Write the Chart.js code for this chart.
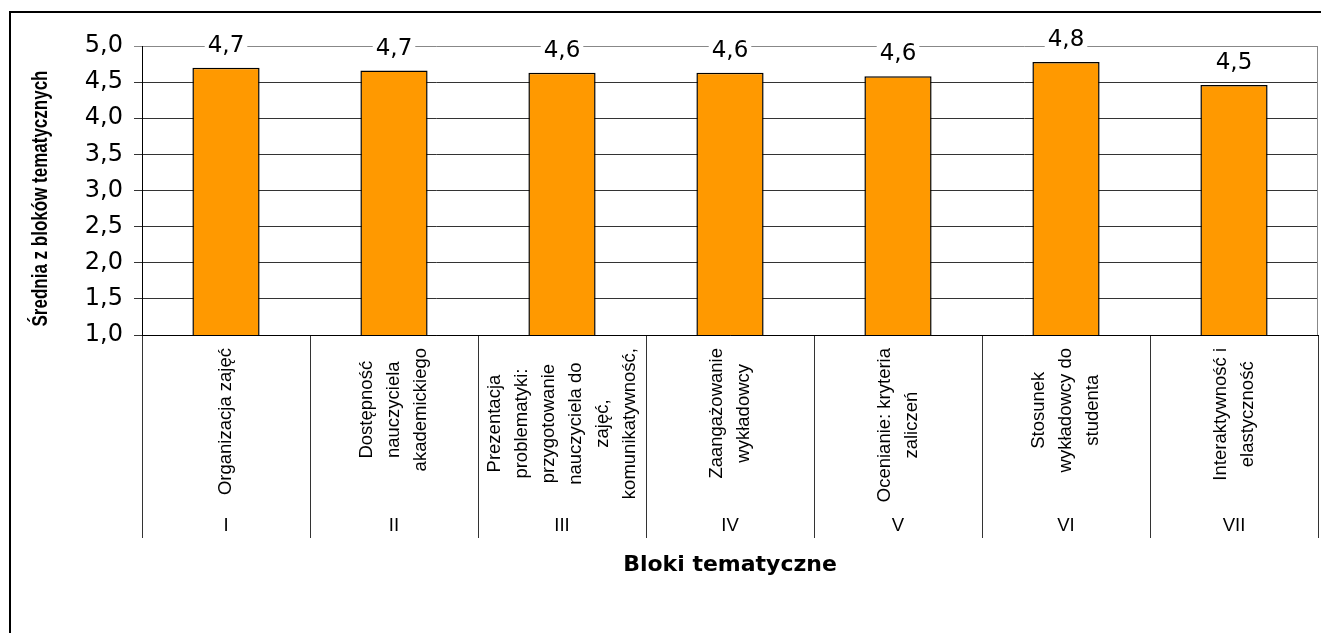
<!DOCTYPE html>
<html>
<head>
<meta charset="utf-8">
<script src="https://cdn.jsdelivr.net/npm/chart.js@4.4.1/dist/chart.umd.min.js"></script>
<style>
    html, body { margin: 0; padding: 0; background: #fff; }
    canvas { display: block; }
</style>
</head>
<body>
<canvas id="blocks-chart" width="1321" height="633"></canvas>
<script>
'use strict';

// data
const blockNumbers = ['I', 'II', 'III', 'IV', 'V', 'VI', 'VII'];
const blockNames = [
    ['Organizacja zajęć'],
    ['Dostępność', 'nauczyciela', 'akademickiego'],
    ['Prezentacja', 'problematyki:', 'przygotowanie', 'nauczyciela do', 'zajęć,', 'komunikatywność,'],
    ['Zaangażowanie', 'wykładowcy'],
    ['Ocenianie: kryteria', 'zaliczeń'],
    ['Stosunek', 'wykładowcy do', 'studenta'],
    ['Interaktywność i', 'elastyczność'],
];
const averages = [4.70, 4.66, 4.63, 4.63, 4.58, 4.78, 4.46];
const yMin = 1;
const yMax = 5;
const yStep = 0.5;
const yTitle = 'Średnia z bloków tematycznych';
const xTitle = 'Bloki tematyczne';

const ARIAL = '"Liberation Sans", Arial, sans-serif';
const WIDE = '"DejaVu Sans", sans-serif';

window.toComma = function (value) {
    return value.toFixed(1).replace('.', ',');
};

const blockLabelsPlugin = {
    id: 'blockLabels',
    beforeDraw(chart) {
        const ctx = chart.ctx;
        ctx.save();
        ctx.fillStyle = '#000';
        ctx.fillRect(9, 11, 2, chart.height - 11);
        ctx.fillRect(9, 11, chart.width - 9, 2);
        ctx.restore();
    },
    afterDatasetsDraw(chart) {
        const ctx = chart.ctx;
        const area = chart.chartArea;
        const meta = chart.getDatasetMeta(0);
        ctx.save();
        // plot area border on the right
        ctx.strokeStyle = '#888';
        ctx.lineWidth = 1;
        ctx.beginPath();
        ctx.moveTo(area.right - 0.5, area.top);
        ctx.lineTo(area.right - 0.5, area.bottom);
        ctx.stroke();

        ctx.font = '23px ' + WIDE;
        ctx.textAlign = 'center';
        ctx.textBaseline = 'middle';
        meta.data.forEach(function (bar, i) {
            let text = toComma(averages[i]);
            let w = ctx.measureText(text).width;
            let y = bar.y - 22;
            ctx.fillStyle = '#fff';
            ctx.fillRect(bar.x - w / 2 - 3, y - 12, w + 6, 24);
            ctx.fillStyle = '#000';
            ctx.fillText(text, bar.x, y);
        });
        ctx.restore();
    },
    afterDraw(chart) {
        const ctx = chart.ctx;
        const area = chart.chartArea;
        const xScale = chart.scales.x;
        const top = area.bottom + 13;
        ctx.save();
        ctx.fillStyle = '#000';
        ctx.font = '18.5px ' + ARIAL;
        ctx.textAlign = 'center';
        ctx.textBaseline = 'middle';
        blockNames.forEach(function (lines, i) {
            let x = xScale.getPixelForValue(i);
            let longest = Math.max.apply(null, lines.map(l => ctx.measureText(l).width));
            ctx.save();
            ctx.translate(x, top + longest / 2);
            ctx.rotate(-Math.PI / 2);
            lines.forEach(function (line, j) {
                ctx.fillText(line, 0, (j - (lines.length - 1) / 2) * 27);
            });
            ctx.restore();
            ctx.fillText(blockNumbers[i], x, area.bottom + 191);
        });

        // value axis title, a bit wider than plain Arial like the original
        ctx.translate(41, (area.top + area.bottom) / 2 + 8);
        ctx.rotate(-Math.PI / 2);
        ctx.scale(1, 1.3);
        ctx.font = 'bold 17px ' + ARIAL;
        ctx.fillText(yTitle, 0, 0);
        ctx.restore();
    },
};

let ctx = document.getElementById('blocks-chart').getContext('2d');
window.blocksChart = new Chart(ctx, {
    type: 'bar',
    data: {
        labels: blockNumbers,
        datasets: [
            {
                data: averages,
                backgroundColor: '#ff9900',
                borderColor: '#000',
                borderWidth: 1.5,
                borderSkipped: false,
                inflateAmount: 0,
                categoryPercentage: 1,
                barPercentage: 0.4,
            }],
    },
    options: {
        responsive: false,
        animation: false,
        devicePixelRatio: 1,
        layout: {
            padding: {top: 46, right: 3, left: 0, bottom: 0},
        },
        plugins: {
            legend: {display: false},
            tooltip: {enabled: false},
        },
        scales: {
            x: {
                afterFit: function (scale) {
                    scale.height = 298;
                },
                ticks: {display: false},
                grid: {
                    offset: true,
                    drawOnChartArea: false,
                    tickLength: 203,
                    color: '#333',
                },
                border: {color: '#000'},
                title: {
                    display: true,
                    text: xTitle,
                    color: '#000',
                    font: {family: WIDE, size: 22, weight: 'bold'},
                    padding: {top: 0, bottom: 55},
                },
            },
            y: {
                min: yMin,
                max: yMax,
                afterFit: function (scale) {
                    scale.width = 142;
                },
                ticks: {
                    stepSize: yStep,
                    padding: 11,
                    color: '#000',
                    font: {family: WIDE, size: 24},
                    callback: function (value) {
                        return toComma(value);
                    },
                },
                grid: {
                    tickLength: 8,
                    color: function (c) {
                        return c.tick && c.tick.value === yMax ? '#888' : '#333';
                    },
                },
                border: {color: '#000'},
            },
        },
    },
    plugins: [blockLabelsPlugin],
});
</script>
</body>
</html>
